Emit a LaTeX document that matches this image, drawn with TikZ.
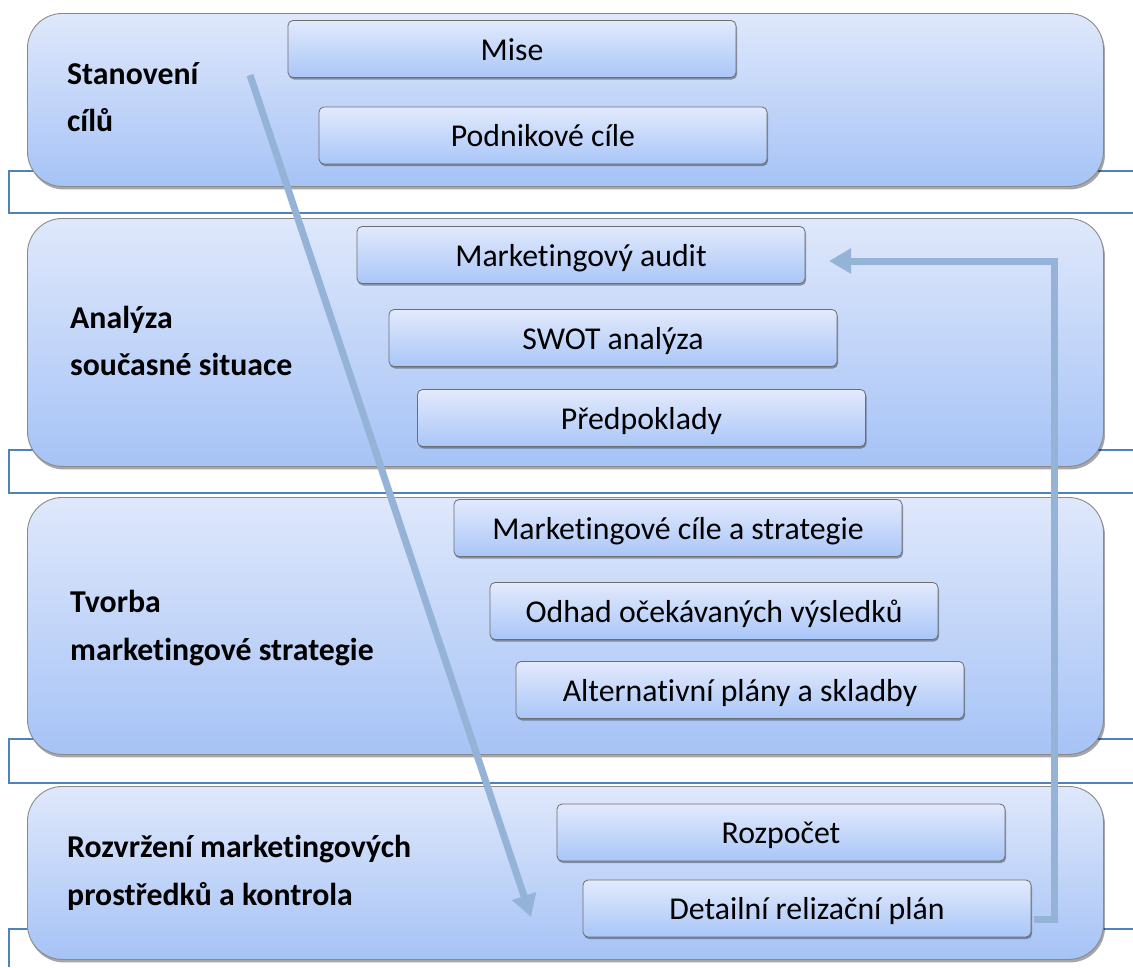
\documentclass[tikz,border=0pt]{standalone}
\usepackage{fontspec}
\setmainfont{Carlito}[Ligatures=NoCommon]
\usetikzlibrary{arrows.meta,shadows}
\definecolor{arrowc}{HTML}{95B3D7}
\definecolor{linec}{HTML}{4F81BD}
\definecolor{gtop}{HTML}{DFE8FB}
\definecolor{gbot}{HTML}{A6C3F6}
\definecolor{stop}{HTML}{E2EAFC}
\definecolor{sbot}{HTML}{A9C6F8}
\definecolor{bordc}{HTML}{8A8A8A}
\definecolor{sbordc}{HTML}{6E6E6E}
\tikzset{
  bigbox/.style={rounded corners=35pt, draw=bordc, line width=0.9pt,
    top color=gtop, bottom color=gbot, inner sep=0pt, anchor=north west,
    minimum width=1076pt,
    drop shadow={shadow xshift=1.5pt, shadow yshift=-3pt, opacity=0.35, fill=black}},
  smallbox/.style={rounded corners=5pt, draw=sbordc, line width=0.8pt,
    top color=stop, bottom color=sbot, inner sep=0pt,
    minimum width=448pt, minimum height=57pt,
    text height=24pt, text depth=2pt,
    font=\fontsize{31.8}{38}\selectfont,
    drop shadow={shadow xshift=1pt, shadow yshift=-2pt, opacity=0.35, fill=black}},
  lbl/.style={font=\fontsize{31.8}{38}\selectfont\bfseries, anchor=base west, inner sep=0pt},
  flow/.style={line width=7pt, draw=arrowc, line join=miter,
    -{Triangle[width=24pt,length=22pt]}},
  bracket/.style={draw=linec, line width=1.5pt}
}
\begin{document}
\begin{tikzpicture}[x=1pt,y=-1pt]
\useasboundingbox (0,0) rectangle (1133,967);
% bracket lines behind boxes
\draw[bracket] (1133,171) -- (9,171) -- (9,213) -- (1133,213);
\draw[bracket] (1133,450) -- (9,450) -- (9,493) -- (1133,493);
\draw[bracket] (1133,739) -- (9,739) -- (9,783) -- (1133,783);
\draw[bracket] (1133,929) -- (9,929) -- (9,967);
% big boxes
\node[bigbox, minimum height=173pt] (b1) at (27,13) {};
\node[bigbox, minimum height=248pt] (b2) at (27,218) {};
\node[bigbox, minimum height=257pt] (b3) at (27,497) {};
\node[bigbox, minimum height=173pt] (b4) at (27,786) {};
% labels
\node[lbl] (l1a) at (67,84) {Stanovení};
\node[lbl] (l1b) at (67,131) {cílů};
\node[lbl] (l2a) at (70,328) {Analýza};
\node[lbl] (l2b) at (70,375) {současné situace};
\node[lbl] (l3a) at (70,612) {Tvorba};
\node[lbl] (l3b) at (70,660) {marketingové strategie};
\node[lbl] (l4a) at (67,857) {Rozvržení marketingových};
\node[lbl] (l4b) at (67,905) {prostředků a kontrola};
% small boxes
\node[smallbox] (mise) at (512,49) {Mise};
\node[smallbox] (podn) at (543,135.5) {Podnikové cíle};
\node[smallbox] (audit) at (581,255) {Marketingový audit};
\node[smallbox] (swot) at (613,338) {SWOT analýza};
\node[smallbox] (pred) at (641.5,418) {Předpoklady};
\node[smallbox] (mcs) at (678,528) {Marketingové cíle a strategie};
\node[smallbox] (odhad) at (714,611) {Odhad očekávaných výsledků};
\node[smallbox] (alt) at (740,690) {Alternativní plány a skladby};
\node[smallbox] (rozp) at (781,832.5) {Rozpočet};
\node[smallbox] (det) at (807,908.5) {Detailní relizační plán};
% arrows
\coordinate (d1) at (250,75);
\coordinate (d2) at (531,917);
\draw[flow] (d1) -- (d2);
\coordinate (e1) at (1034,919);
\coordinate (e2) at (1054,261);
\coordinate (e3) at (829,261);
\draw[flow] (e1) -| (e2) -- (e3);
\end{tikzpicture}
\end{document}
